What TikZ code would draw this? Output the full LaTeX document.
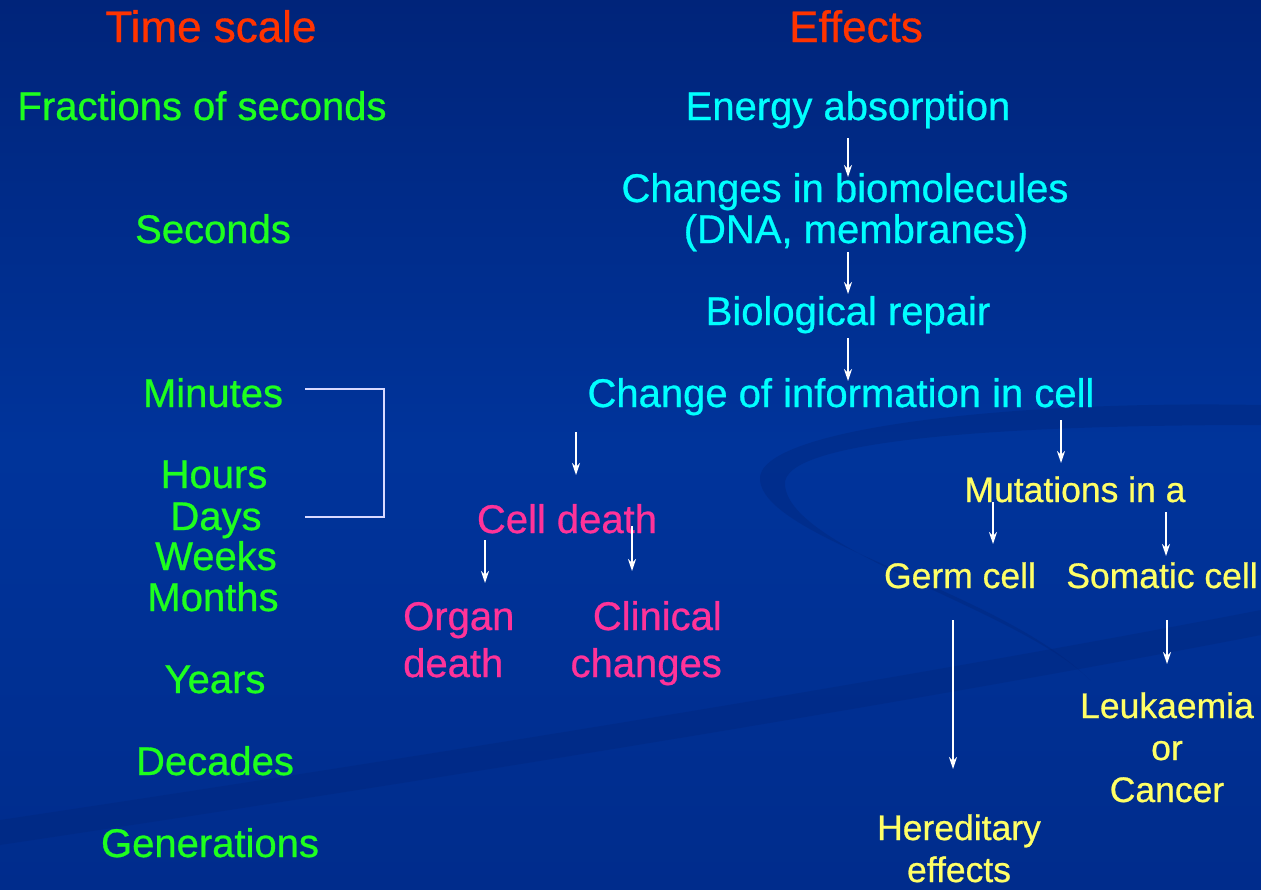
\documentclass[tikz,border=0pt]{standalone}
\usepackage{fontspec}
\setmainfont{Liberation Sans}[FakeBold=0.7]
\usetikzlibrary{arrows.meta}
\definecolor{slidetop}{RGB}{0,36,122}
\definecolor{slidemid}{RGB}{0,52,155}
\definecolor{slidebot}{RGB}{0,44,140}
\definecolor{swoosh}{RGB}{0,36,118}
\definecolor{titlered}{RGB}{255,51,0}
\definecolor{timegreen}{RGB}{30,255,30}
\definecolor{effcyan}{RGB}{0,255,255}
\definecolor{deathpink}{RGB}{255,51,153}
\definecolor{mutyellow}{RGB}{255,255,102}
\begin{document}
\begin{tikzpicture}[x=1pt,y=-1pt,
    title/.style={text=titlered,font=\fontsize{44}{50}\selectfont,anchor=base,inner sep=0pt},
    timelbl/.style={text=timegreen,font=\fontsize{40}{46}\selectfont,anchor=base,inner sep=0pt},
    efflbl/.style={text=effcyan,font=\fontsize{40}{42}\selectfont,anchor=base,inner sep=0pt,align=center},
    deathlbl/.style={text=deathpink,font=\fontsize{40}{47}\selectfont,anchor=base,inner sep=0pt},
    mutlbl/.style={text=mutyellow,font=\fontsize{35.5}{42}\selectfont,anchor=base,inner sep=0pt,align=center},
    flow/.style={draw=white,line width=1.6pt,-{Stealth[length=12pt,width=8pt,inset=4pt]}}]
  % slide background
  \useasboundingbox (0,0) rectangle (1261,889);
  \shade[top color=slidetop,bottom color=slidemid] (0,0) rectangle (1261,445);
  \shade[top color=slidemid,bottom color=slidebot] (0,445) rectangle (1261,889);
  \fill[swoosh,opacity=0.35]
    (1261,405) .. controls (1000,400) and (755,430) .. (760,480)
    .. controls (765,540) and (1000,590) .. (1090,680)
    .. controls (1020,610) and (790,550) .. (785,485)
    .. controls (780,440) and (1000,425) .. (1261,425) -- cycle;
  \fill[swoosh,opacity=0.3]
    (0,820) .. controls (400,760) and (900,680) .. (1261,610)
    -- (1261,635) .. controls (900,705) and (400,785) .. (0,845) -- cycle;

  % headings
  \node[title] (tscale) at (211,42) {Time scale};
  \node[title] (effects) at (856,42) {Effects};

  % time scale column
  \node[timelbl] (fract) at (202,120) {Fractions of seconds};
  \node[timelbl] (sec) at (213,243) {Seconds};
  \node[timelbl] (minutes) at (213,407) {Minutes};
  \node[timelbl] (hours) at (214,488) {Hours};
  \node[timelbl] (days) at (216,530) {Days};
  \node[timelbl] (weeks) at (216,570) {Weeks};
  \node[timelbl] (months) at (213,611) {Months};
  \node[timelbl] (years) at (215,693) {Years};
  \node[timelbl] (decades) at (215,775) {Decades};
  \node[timelbl] (gener) at (210,857) {Generations};
  \coordinate (brtop) at (305,389);
  \coordinate (brbot) at (305,517);
  \draw[white!85!blue,line width=1.6pt] (brtop) -- (384,389) -- (384,517) -- (brbot);

  % effects chain
  \node[efflbl] (energy) at (848,120) {Energy absorption};
  \node[efflbl] (biomol) at (845,202) {Changes in biomolecules};
  \node[efflbl] (dna) at (856,243) {(DNA, membranes)};
  \node[efflbl] (repair) at (848,325) {Biological repair};
  \node[efflbl] (info) at (841,407) {Change of information in cell};
  \draw[flow] (848,138) coordinate (a1s) -- (848,177) coordinate (a1e);
  \draw[flow] (848,252) coordinate (a2s) -- (848,294) coordinate (a2e);
  \draw[flow] (848,338) coordinate (a3s) -- (848,381) coordinate (a3e);

  % cell death branch
  \draw[flow] (576,432) coordinate (a4s) -- (576,475) coordinate (a4e);
  \node[deathlbl] (celldeath) at (567,533) {Cell death};
  \draw[flow] (485,540) coordinate (a5s) -- (485,583) coordinate (a5e);
  \draw[flow] (632,526) coordinate (a6s) -- (632,571) coordinate (a6e);
  \node[deathlbl,anchor=base west,align=left] (organ) at (403,677) {Organ\\death};
  \node[deathlbl,anchor=base east,align=right] (clinical) at (722,677) {Clinical\\changes};

  % mutation branch
  \draw[flow] (1061,420) coordinate (a7s) -- (1061,463) coordinate (a7e);
  \node[mutlbl] (mutation) at (1075,502) {Mutations in a};
  \draw[flow] (993,502) coordinate (a8s) -- (993,544) coordinate (a8e);
  \draw[flow] (1166,512) coordinate (a9s) -- (1166,556) coordinate (a9e);
  \node[mutlbl] (germ) at (960,588) {Germ cell};
  \node[mutlbl] (somatic) at (1162,588) {Somatic cell};
  \draw[flow] (953,620) coordinate (a10s) -- (953,769) coordinate (a10e);
  \draw[flow] (1167,620) coordinate (a11s) -- (1167,664) coordinate (a11e);
  \node[mutlbl] (cancer) at (1167,802) {Leukaemia\\or\\Cancer};
  \node[mutlbl] (hered) at (959,882) {Hereditary\\effects};
\end{tikzpicture}
\end{document}
